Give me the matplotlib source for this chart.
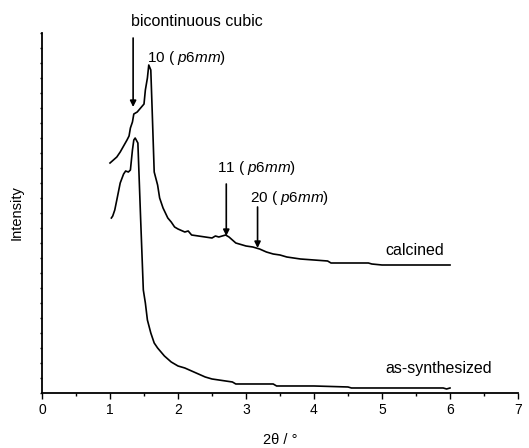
import matplotlib
matplotlib.use('Agg')
import matplotlib.pyplot as plt
from matplotlib.ticker import MultipleLocator

plt.rcParams['font.family'] = ['Liberation Sans', 'DejaVu Sans']
plt.rcParams['mathtext.fontset'] = 'custom'
plt.rcParams['mathtext.it'] = 'Liberation Sans:italic'
plt.rcParams['mathtext.rm'] = 'Liberation Sans'

# calcined sample (arbitrary intensity units)
calc_x = [1.00, 1.05, 1.10, 1.15, 1.20, 1.25, 1.28, 1.30, 1.33, 1.35, 1.40, 1.45, 1.50,
          1.52, 1.55, 1.57, 1.60, 1.62, 1.65, 1.70, 1.73, 1.78, 1.85, 1.90, 1.95, 2.00,
          2.10, 2.15, 2.20, 2.30, 2.40, 2.50, 2.55, 2.60, 2.65, 2.70, 2.75, 2.80, 2.85,
          2.90, 3.00, 3.10, 3.20, 3.30, 3.40, 3.50, 3.60, 3.70, 3.80, 4.00, 4.20, 4.25,
          4.50, 4.80, 4.85, 5.00, 6.00]
calc_y = [230, 233, 236, 241, 247, 253, 257, 265, 271, 279, 281, 285, 289,
          303, 315, 328, 323, 283, 221, 208, 195, 185, 175, 171, 166, 164,
          161, 162, 158, 157, 156, 155, 157, 156, 157, 158, 156, 153, 150,
          149, 147, 146, 144, 141, 139, 138, 136, 135, 134, 133, 132, 130,
          130, 130, 129, 128, 128]

# as-synthesized sample
as_x = [1.02, 1.04, 1.07, 1.10, 1.15, 1.20, 1.23, 1.27, 1.30, 1.33, 1.35, 1.37, 1.41,
        1.45, 1.49, 1.52, 1.55, 1.60, 1.65, 1.70, 1.80, 1.90, 2.00, 2.10, 2.20, 2.30,
        2.40, 2.50, 2.60, 2.80, 2.85, 3.00, 3.40, 3.45, 3.60, 4.00, 4.50, 4.55, 5.90,
        5.95, 6.00]
as_y = [175, 177, 183, 193, 210, 219, 222, 221, 223, 243, 253, 255, 250,
        175, 103, 90, 73, 60, 50, 45, 37, 31, 27, 25, 22, 19,
        16, 14, 13, 11, 9, 9, 9, 7, 7, 7, 6, 5, 5,
        4, 5]

fig = plt.figure(figsize=(5.29, 4.48), dpi=100)
ax = fig.add_axes([0.0794, 0.1228, 0.8998, 0.8035])

ax.plot(calc_x, calc_y, color='black', linewidth=1.2)
ax.plot(as_x, as_y, color='black', linewidth=1.2)

ax.set_xlim(0, 7)
ax.set_ylim(0, 360)
ax.xaxis.set_major_locator(MultipleLocator(1))
ax.xaxis.set_minor_locator(MultipleLocator(0.5))
ax.yaxis.set_major_locator(MultipleLocator(15))
ax.set_yticklabels([])
ax.tick_params(axis='x', which='major', length=4, width=1, labelsize=10, pad=3)
ax.tick_params(axis='x', which='minor', length=2.5, width=1)
ax.tick_params(axis='y', length=1.5, width=1)
for s in ['top', 'right']:
    ax.spines[s].set_visible(False)
for s in ['left', 'bottom']:
    ax.spines[s].set_linewidth(1.3)

ax.set_xlabel('2θ / °', fontsize=10.5, labelpad=12)
ax.set_ylabel('Intensity', fontsize=10.5, labelpad=8)

arrow = dict(arrowstyle='-|>', color='black', lw=1.2, mutation_scale=9, shrinkA=0, shrinkB=0)

ax.annotate('', xy=(1.34, 286), xytext=(1.34, 355), xycoords='data', arrowprops=arrow)
ax.text(2.28, 372, 'bicontinuous cubic', fontsize=11.5, ha='center', va='center')
ax.text(1.55, 335, r'10 ( $p$6$mm$)', fontsize=11, ha='left', va='center')

ax.annotate('', xy=(2.71, 157), xytext=(2.71, 209), arrowprops=arrow)
ax.text(2.57, 225, r'11 ( $p$6$mm$)', fontsize=11, ha='left', va='center')

ax.annotate('', xy=(3.17, 145), xytext=(3.17, 186), arrowprops=arrow)
ax.text(3.06, 195, r'20 ( $p$6$mm$)', fontsize=11, ha='left', va='center')

ax.text(5.05, 142, 'calcined', fontsize=11.5, ha='left', va='center')
ax.text(5.05, 24, 'as-synthesized', fontsize=11.5, ha='left', va='center')

fig.savefig('out.png', dpi=100)
